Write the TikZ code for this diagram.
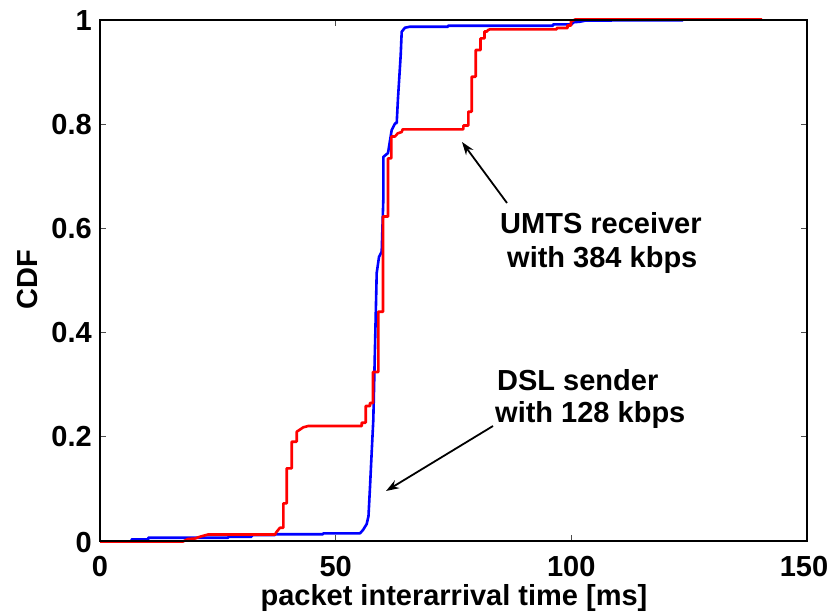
\documentclass[tikz,border=0pt]{standalone}
\usepackage{fontspec}
\setmainfont{Liberation Sans}
\usetikzlibrary{arrows.meta}
\begin{document}
\begin{tikzpicture}[x=1pt,y=-1pt,
  lbl/.style={font=\fontsize{29}{32}\selectfont\bfseries, inner sep=0pt},
  note/.style={font=\fontsize{29}{32}\selectfont\bfseries, inner sep=0pt, anchor=base west},
  axisline/.style={line width=1.4pt, black},
  tick/.style={line width=0.7pt, black!70},
  cdfline/.style={line width=2.6pt, line join=round},
  pointer/.style={line width=1.8pt, -{Stealth[length=13pt,width=9pt]}}]
\useasboundingbox (0,0) rectangle (833,611);

% plot area: x from 0 to 150 ms, y from 0 to 1 (screen units)
\coordinate (ll) at (100,541);
\coordinate (ur) at (807,20);

% ticks on all four sides
\foreach \x in {100,335.7,571.3,807} {
  \draw[tick] (\x,541) -- (\x,535);
  \draw[tick] (\x,20) -- (\x,26);
}
\foreach \y in {541,436.8,332.6,228.4,124.2,20} {
  \draw[tick] (100,\y) -- (106,\y);
  \draw[tick] (807,\y) -- (801,\y);
}

% tick labels
\node[lbl, anchor=east] (y0) at (92,543) {0};
\node[lbl, anchor=east] (y1) at (92,437) {0.2};
\node[lbl, anchor=east] (y2) at (92,333) {0.4};
\node[lbl, anchor=east] (y3) at (92,229) {0.6};
\node[lbl, anchor=east] (y4) at (92,125) {0.8};
\node[lbl, anchor=east] (y5) at (92,21) {1};
\node[lbl] (x0) at (100,567) {0};
\node[lbl] (x1) at (335.7,567) {50};
\node[lbl] (x2) at (571.3,567) {100};
\node[lbl] (x3) at (804,567) {150};

% axis titles
\node[lbl] (xt) at (454,598) {packet interarrival time [ms]};
\node[lbl, rotate=90] (yt) at (28,280) {CDF};

% DSL sender, 128 kbps
\draw[cdfline, blue] (100,541.5) -- (131.7,541.5) -- (131.7,539.3) -- (148.3,539.3)
  -- (148.3,537.7) -- (228.3,537.7) -- (228.3,536.7) -- (251.7,536.7) -- (251.7,535)
  -- (275,535) -- (275,534.2) -- (323,534.2) -- (323,533.3) -- (360,533.3)
  -- (363,530) -- (366.7,524) -- (368.5,516) -- (370,487) -- (371.7,452)
  -- (373.3,420) -- (375,346.7) -- (376.7,273) -- (379,257) -- (381.7,251.7)
  -- (383.3,200) -- (383.3,157) -- (388,153) -- (391.7,130) -- (395,123.5)
  -- (396.7,123) -- (398,98) -- (400.7,55) -- (401.7,31.7) -- (405,27.7)
  -- (410,26.7) -- (448,26.7) -- (448,25.7) -- (553,25.7) -- (553,24.3)
  -- (571.7,24.3) -- (573.3,22.3) -- (580,21.7) -- (586,20.5) -- (683,20.3);

% UMTS receiver, 384 kbps
\draw[cdfline, red] (100,541.5) -- (183,541.5) -- (188,539) -- (195,538.5)
  -- (200,536.7) -- (208,534.5) -- (275,534.5) -- (276.7,531.7) -- (280,527.7)
  -- (283.3,527.7) -- (283.3,503.3) -- (286.7,503.3) -- (286.7,468.3)
  -- (291.7,468.3) -- (291.7,441.7) -- (296.7,441.7) -- (296.7,431.7)
  -- (299.3,430) -- (303.3,427.3) -- (308.3,426) -- (361.7,426) -- (361.7,422.7)
  -- (365.7,422.7) -- (365.7,406) -- (370,406) -- (370,403) -- (373,403)
  -- (373,372) -- (378.3,372) -- (378.3,311.7) -- (383,311.7) -- (383,216.5)
  -- (388,216.5) -- (388,158.3) -- (391.3,158.3) -- (391.3,136.5) -- (395,136.5)
  -- (397.7,133.3) -- (401.7,132) -- (402.7,129.3) -- (463.3,129.3) -- (463.3,125.5)
  -- (468.3,125.5) -- (468.3,111.7) -- (471.7,111.7) -- (471.7,76.7) -- (475.7,76.7)
  -- (475.7,50) -- (480.5,50) -- (480.5,38.3) -- (484.5,38.3) -- (484.5,31.5)
  -- (487,31.5) -- (488,30) -- (490,29.3) -- (556.7,29.3) -- (556.7,28)
  -- (567.5,28) -- (567.5,25.5) -- (571,25.5) -- (571,21.5) -- (573.3,20.5)
  -- (575,19.5) -- (762,19.5);

% frame
\draw[axisline] (ll) rectangle (ur);

% annotations
\node[note] (umts1) at (500,233) {UMTS receiver};
\node[note] (umts2) at (507,267) {with 384 kbps};
\node[note] (dsl1) at (497,390) {DSL sender};
\node[note] (dsl2) at (495,422) {with 128 kbps};

\coordinate (umtsTail) at (507,203);
\coordinate (umtsTip) at (462,142);
\coordinate (dslTail) at (493,426);
\coordinate (dslTip) at (386,491);
\draw[pointer] (umtsTail) -- (umtsTip);
\draw[pointer] (dslTail) -- (dslTip);
\end{tikzpicture}
\end{document}
